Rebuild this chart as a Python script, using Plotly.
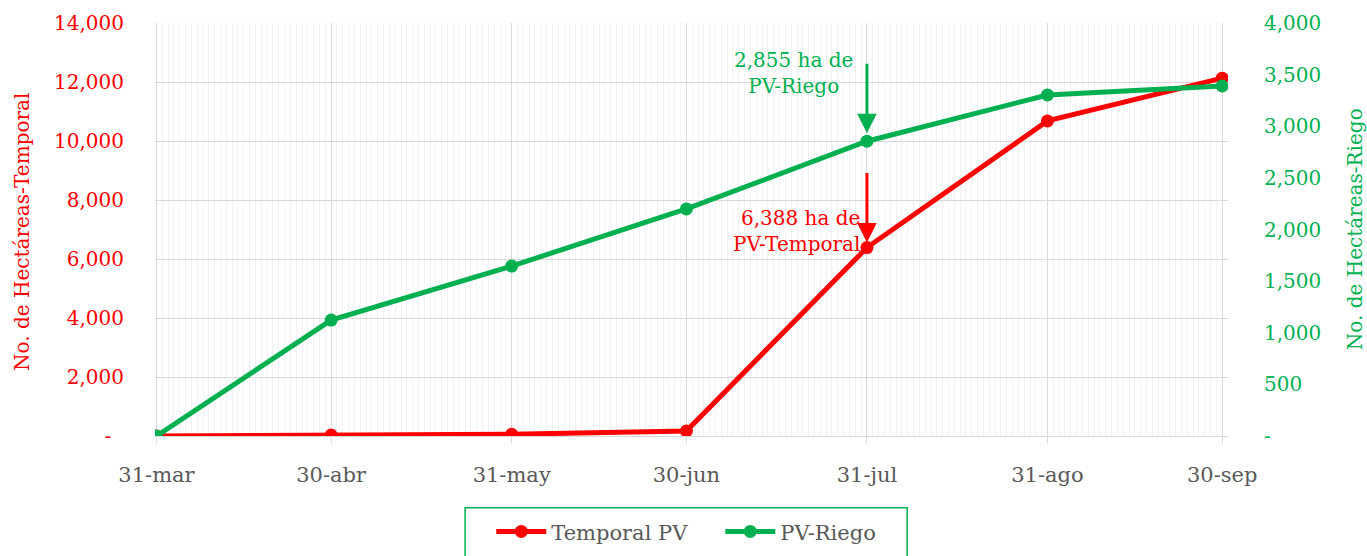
import plotly.graph_objects as go

dates = ["2023-03-31", "2023-04-30", "2023-05-31", "2023-06-30", "2023-07-31", "2023-08-31", "2023-09-30"]
tick_labels = ["31-mar", "30-abr", "31-may", "30-jun", "31-jul", "31-ago", "30-sep"]
temporal = [0, 30, 60, 170, 6388, 10680, 12130]
riego = [0, 1123, 1646, 2199, 2855, 3303, 3390]

left_ticks = [0, 2000, 4000, 6000, 8000, 10000, 12000, 14000]
left_text = ["-  ", "2,000", "4,000", "6,000", "8,000", "10,000", "12,000", "14,000"]
right_ticks = [0, 500, 1000, 1500, 2000, 2500, 3000, 3500, 4000]
right_text = ["-", "500", "1,000", "1,500", "2,000", "2,500", "3,000", "3,500", "4,000"]

RED = "#FF0000"
GREEN = "#00B050"
GRAY = "#595959"
FONT = "DejaVu Serif"
FS = 20

fig = go.Figure()
fig.add_trace(go.Scatter(x=dates, y=temporal, name="Temporal PV", mode="lines+markers",
                         line=dict(color=RED, width=5), marker=dict(size=13, color=RED)))
fig.add_trace(go.Scatter(x=dates, y=riego, name="PV-Riego", mode="lines+markers", yaxis="y2",
                         line=dict(color=GREEN, width=5), marker=dict(size=13, color=GREEN)))

fig.update_layout(
    width=1367, height=556,
    margin=dict(l=155, r=139, t=23, b=120, autoexpand=False),
    paper_bgcolor="white", plot_bgcolor="white",
    font=dict(family=FONT, size=FS, color=GRAY),
    xaxis=dict(type="date", range=["2023-03-30 18:00", "2023-10-01"], automargin=False,
               tickvals=dates, ticktext=tick_labels,
               showgrid=True, gridcolor="#d9d9d9", gridwidth=1,
               minor=dict(dtick=86400000, tick0="2023-03-31", showgrid=True, gridcolor="#f2f2f2", gridwidth=1),
               ticks="outside", ticklen=6, tickcolor="#d9d9d9", ticklabelstandoff=14,
               showline=True, linecolor="#d9d9d9",
               tickfont=dict(color=GRAY, size=21, family=FONT), zeroline=False),
    yaxis=dict(range=[0, 14000], tickvals=left_ticks, ticktext=left_text, automargin=False,
               showgrid=True, gridcolor="#d9d9d9", zeroline=False, ticklabelstandoff=30,
               tickfont=dict(color=RED, size=FS, family=FONT)),
    yaxis2=dict(range=[0, 4000], overlaying="y", side="right", tickvals=right_ticks, ticktext=right_text,
                showgrid=False, zeroline=False, automargin=False, ticklabelstandoff=35,
                tickfont=dict(color=GREEN, size=FS, family=FONT)),
    legend=dict(orientation="h", x=0.3134, xanchor="left", y=-0.232, yanchor="middle",
                itemwidth=50, entrywidth=164, itemsizing="trace",
                font=dict(color=GRAY, size=21, family=FONT), bgcolor="rgba(0,0,0,0)"),
    showlegend=True,
)

fig.add_shape(type="rect", xref="paper", yref="paper", x0=0.289, x1=0.701, y0=-0.174, y1=-0.32,
              line=dict(color=GREEN, width=1.5), fillcolor="rgba(0,0,0,0)")

# axis titles
fig.add_annotation(x=-0.124, y=0.494, xref="paper", yref="paper", xanchor="center", yanchor="middle",
                   text="No. de Hectáreas-Temporal", textangle=-90, showarrow=False,
                   font=dict(color=RED, size=FS, family=FONT))
fig.add_annotation(x=1.1184, y=0.501, xref="paper", yref="paper", xanchor="center", yanchor="middle",
                   text="No. de Hectáreas-Riego", textangle=-90, showarrow=False,
                   font=dict(color=GREEN, size=FS, family=FONT))

# arrows
fig.add_annotation(x=dates[4], y=riego[4], xref="x", yref="y2", ax=0, ay=-79,
                   showarrow=True, arrowhead=2, arrowsize=1.3, arrowwidth=3, arrowcolor=GREEN, standoff=8, text="")
fig.add_annotation(x=dates[4], y=temporal[4], xref="x", yref="y", ax=0, ay=-76,
                   showarrow=True, arrowhead=2, arrowsize=1.3, arrowwidth=3, arrowcolor=RED, standoff=5, text="")
# labels
fig.add_annotation(x=0.5946, y=0.879, xref="paper", yref="paper", xanchor="center", yanchor="middle",
                   text="2,855 ha de<br>PV-Riego", showarrow=False, align="center",
                   font=dict(color=GREEN, size=FS, family=FONT))
fig.add_annotation(x=0.659, y=0.496, xref="paper", yref="paper", xanchor="right", yanchor="middle",
                   text="6,388 ha de<br>PV-Temporal", showarrow=False, align="right",
                   font=dict(color=RED, size=FS, family=FONT))

fig.write_html("out.html", config={"displayModeBar": False},
               post_script="document.body.style.margin='0px';document.body.style.overflow='hidden';")
